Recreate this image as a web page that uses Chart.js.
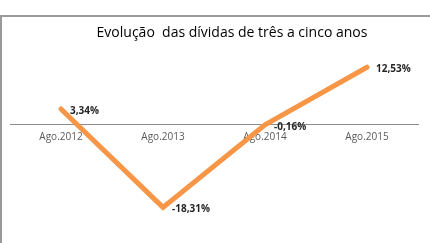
<!DOCTYPE html>
<html>
<head>
<meta charset="utf-8">
<script src="https://cdn.jsdelivr.net/npm/chart.js@4"></script>
<style>
html,body{margin:0;padding:0;background:#fff;}
#wrap{width:430px;height:243px;position:relative;}
</style>
</head>
<body>
<div id="wrap"><canvas id="c" width="430" height="243"></canvas></div>
<script>
const categories = ["Ago.2012", "Ago.2013", "Ago.2014", "Ago.2015"];
const values = [3.34, -18.31, -0.16, 12.53];
const valueLabels = ["3,34%", "-18,31%", "-0,16%", "12,53%"];
const chartTitle = "Evolução  das dívidas de três a cinco anos";

const framePlugin = {
  id: 'frame',
  beforeDraw(chart) {
    const ctx = chart.ctx;
    ctx.save();
    ctx.fillStyle = '#fff';
    ctx.fillRect(0, 0, chart.width, chart.height);
    ctx.strokeStyle = '#9a9a9a';
    ctx.lineWidth = 2;
    ctx.beginPath();
    ctx.moveTo(1, 243);
    ctx.lineTo(1, 16);
    ctx.lineTo(430, 16);
    ctx.stroke();
    ctx.fillStyle = '#000';
    ctx.font = '14px "Open Sans"';
    ctx.textAlign = 'center';
    ctx.textBaseline = 'middle';
    ctx.fillText(chartTitle, 232, 33);
    ctx.restore();
  },
  afterDatasetsDraw(chart) {
    const ctx = chart.ctx;
    const meta = chart.getDatasetMeta(0);
    ctx.save();
    ctx.fillStyle = '#262626';
    ctx.font = 'bold 10px "Open Sans"';
    ctx.textAlign = 'left';
    ctx.textBaseline = 'middle';
    meta.data.forEach((pt, i) => {
      ctx.fillText(valueLabels[i], pt.x + 9, pt.y + 2);
    });
    ctx.restore();
  }
};

new Chart(document.getElementById('c'), {
  type: 'line',
  data: {
    labels: categories,
    datasets: [{
      data: values,
      borderColor: '#F79646',
      borderWidth: 5,
      pointRadius: 0,
      tension: 0,
      borderCapStyle: 'round',
      borderJoinStyle: 'miter',
      clip: false
    }]
  },
  options: {
    responsive: false,
    animation: false,
    events: [],
    layout: { padding: { left: 10, right: 12, top: 56, bottom: 28 } },
    plugins: { legend: { display: false }, tooltip: { enabled: false }, title: { display: false } },
    scales: {
      x: {
        position: { y: 0 },
        offset: true,
        afterFit: s => { s.height = 0; },
        grid: { display: false, drawTicks: false },
        border: { display: true, color: '#8c8c8c', width: 1 },
        ticks: { color: '#595959', font: { family: 'Open Sans', size: 10 }, padding: 7, maxRotation: 0 }
      },
      y: {
        display: false,
        min: -20,
        max: 15
      }
    }
  },
  plugins: [framePlugin]
});
</script>
</body>
</html>
